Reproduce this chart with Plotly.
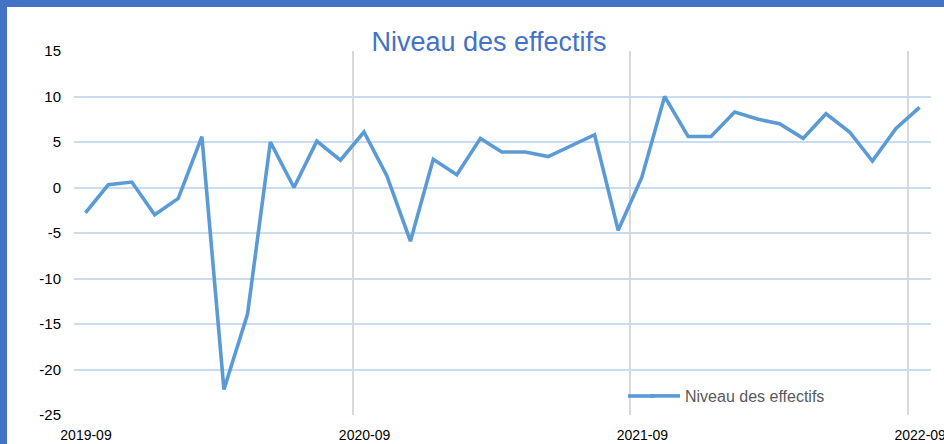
import plotly.graph_objects as go
import pandas as pd

# Data (monthly, 2019-09 .. 2022-09)
months = pd.date_range("2019-09-01", periods=37, freq="MS")
values = [-2.8, 0.3, 0.6, -3.0, -1.2, 5.6, -22.2, -13.9, 5.0, 0.0, 5.1, 3.0,
          6.1, 1.3, -5.9, 3.1, 1.4, 5.4, 3.9, 3.9, 3.4, 4.6, 5.8, -4.7,
          1.1, 10.0, 5.6, 5.6, 8.3, 7.5, 7.0, 5.4, 8.1, 6.1, 2.9, 6.5, 8.8]
series_name = "Niveau des effectifs"
tick_labels = ["2019-09", "2020-09", "2021-09", "2022-09"]
y_ticks = [-25, -20, -15, -10, -5, 0, 5, 10, 15]
y_tick_text = [str(v) for v in y_ticks]

# points sit in the middle of each month (Excel date axis style)
x_mid = [m + pd.Timedelta(days=15) for m in months]
tick_dates = [pd.Timestamp(t + "-01") for t in tick_labels]

W, H = 944, 444
L, R, T, B = 74, 13, 51, 29
pw, ph = W - L - R, H - T - B
LINE_COLOR = "#5b9bd5"

fig = go.Figure()
fig.add_trace(go.Scatter(
    x=x_mid, y=values, mode="lines", name=series_name,
    line=dict(color=LINE_COLOR, width=3.6),
))

def px_x(p):
    return (p - L) / pw

def px_y(p):
    return (H - B - p) / ph

fig.update_layout(
    width=W, height=H,
    margin=dict(l=L, r=R, t=T, b=B, autoexpand=False),
    paper_bgcolor="white", plot_bgcolor="white",
    font=dict(family="Liberation Sans, Arial, sans-serif", color="#000000"),
    title=dict(text=series_name, x=489 / W, xanchor="center",
               y=1 - 42 / H, yanchor="middle", yref="container",
               font=dict(size=27, color="#4472c4")),
    showlegend=True,
    legend=dict(x=px_x(645), y=px_y(396), xanchor="left", yanchor="middle",
                bgcolor="rgba(0,0,0,0)", font=dict(size=16, color="#595959")),
    xaxis=dict(
        type="date", automargin=False,
        range=[months[0], months[-1] + pd.DateOffset(months=1)],
        tickmode="array", tickvals=tick_dates, ticktext=tick_labels,
        showgrid=True, gridcolor="#d9d9d9", gridwidth=2,
        showline=False, zeroline=False, ticks="",
        ticklabelshift=12, ticklabelstandoff=10, ticklabeloverflow="allow",
        tickfont=dict(size=14, color="#000000"),
    ),
    yaxis=dict(
        range=[-25, 15], automargin=False,
        tickmode="array", tickvals=y_ticks, ticktext=y_tick_text,
        showgrid=True, gridcolor="#c9dcf0", gridwidth=2,
        zeroline=False, showline=False, ticks="",
        ticklabelstandoff=12,
        tickfont=dict(size=15, color="#000000"),
    ),
    shapes=[
        dict(type="rect", xref="paper", yref="paper",
             x0=px_x(0), x1=px_x(7), y0=px_y(H), y1=px_y(0),
             fillcolor="#4472c4", line=dict(width=0), layer="above"),
        dict(type="rect", xref="paper", yref="paper",
             x0=px_x(0), x1=px_x(W), y0=px_y(7), y1=px_y(0),
             fillcolor="#4472c4", line=dict(width=0), layer="above"),
        # extend the legend key to Excel's longer sample line
        dict(type="line", xref="paper", yref="paper",
             x0=px_x(628), x1=px_x(655), y0=px_y(396), y1=px_y(396),
             line=dict(color=LINE_COLOR, width=3.6), layer="above"),
    ],
)

fig.write_html("out.html",
               config={"displayModeBar": False},
               post_script="document.body.style.margin='0px';document.body.style.overflow='hidden';")
